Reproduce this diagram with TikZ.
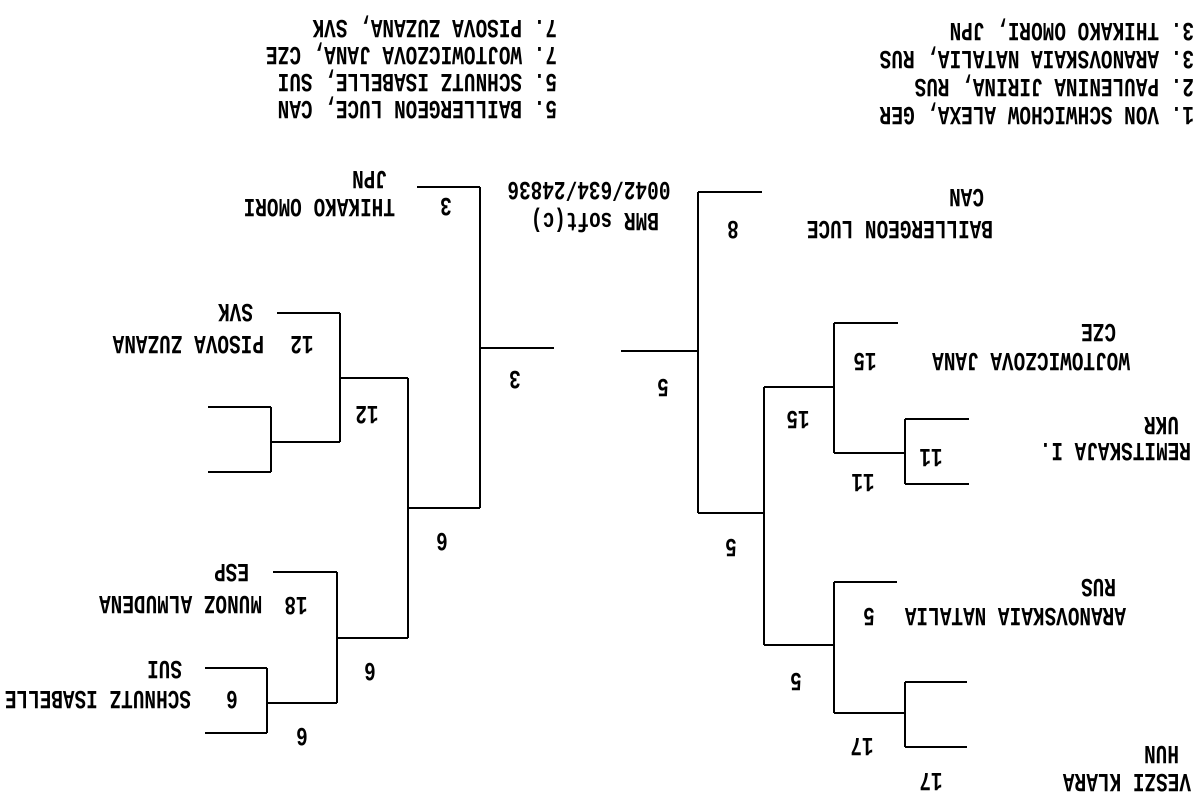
\documentclass[tikz,border=0pt]{standalone}
\usepackage{fontspec}
\setmonofont{Liberation Mono}
\begin{document}
\begin{tikzpicture}[x=.5pt, y=-.5pt, line width=.9pt,
	every node/.style={rotate=180, yscale=1.35, inner sep=0pt, font=\fontsize{9.7}{12}\selectfont\ttfamily\bfseries},
	player/.style={anchor=west}]
	\useasboundingbox[fill=white] (0,0) rectangle (1197,799);
	\foreach \x/\a/\b/\m/\o in {271/407/472/442/340, 340/313/442/378/408, 267/668/733/703/337, 337/572/703/638/408, 408/378/638/508/480, 480/187/508/348/554,
		905/419/484/453/834, 834/323/453/387/764, 905/682/747/713/834, 834/582/713/645/764, 764/387/645/513/698, 698/192/513/351/621}
	\draw (\x, \a)--(\x, \b) (\x, \m)--(\o, \m);
	\foreach \u/\v/\y in {417/480/187, 277/340/313, 208/271/407, 208/271/472, 273/337/572, 205/267/668, 205/267/733,
		698/762/192, 834/898/323, 905/969/419, 905/969/484, 834/897/582, 905/967/682, 905/967/747}
	\draw (\u, \y)--(\v, \y);
	\foreach \x/\y/\t [count = \i] in {446/207/3, 302/345/12, 296/606/18, 232/700/6, 733/230/8, 865/362/15, 931/458/11, 869/617/5, 931/782/17,
		515/380/3, 367/415/12, 442/542/6, 370/672/6, 302/737/6, 663/388/5, 798/420/15, 863/483/11, 731/548/5, 796/682/5, 862/747/17}
	\node (n\i) at (\x, \y) {\t};
	\foreach \x/\y/\t [count = \i] in {396/208/THIKAKO OMORI, 388/180/JPN, 265/345/PISOVA ZUZANA, 254/313/SVK, 263/605/MUNOZ ALMUDENA, 250/573/ESP,
		192/700/SCHNUTZ ISABELLE, 183/670/SUI, 994/230/BAILLERGEON LUCE, 985/198/CAN, 1131/362/WOJTOWICZOVA JANA, 1117/333/CZE,
		1192/452/REMITSKAJA I., 1180/426/UKR, 1127/617/ARANOVSKAIA NATALIA, 1117/588/RUS, 1192/783/VESZI KLARA, 1180/755/HUN}
	\node[player] (p\i) at (\x, \y) {\t};
	\foreach \x/\y/\t [count = \i] in {558/27/{7. PISOVA ZUZANA, SVK}, 558/54/{7. WOJTOWICZOVA JANA, CZE}, 558/81/{5. SCHNUTZ ISABELLE, SUI}, 558/108/{5. BAILLERGEON LUCE, CAN},
		1195/30/{3. THIKAKO OMORI, JPN}, 1195/58/{3. ARANOVSKAIA NATALIA, RUS}, 1195/86/{2. PAULENINA JIRINA, RUS}, 1195/114/{1. VON SCHWICHOW ALEXA, GER}}
	\node[player] (r\i) at (\x, \y) {\t};
	\node (code) at (589, 192) {0042/634/24836};
	\node (soft) at (595, 220) {BMR soft(c)};
\end{tikzpicture}
\end{document}
